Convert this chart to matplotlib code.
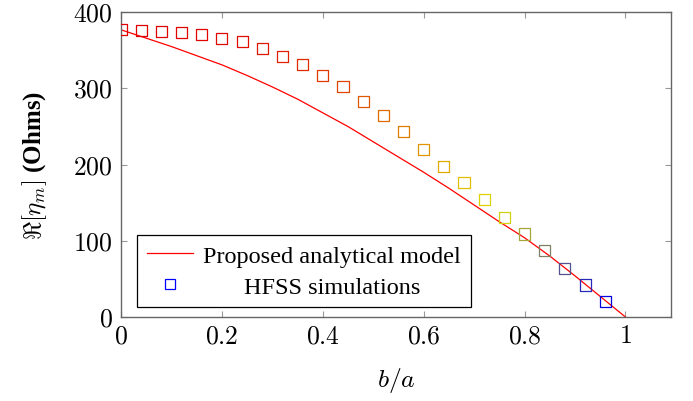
import matplotlib

matplotlib.use("Agg")
import matplotlib.pyplot as plt
import numpy
from matplotlib.colors import LinearSegmentedColormap, Normalize
from matplotlib.lines import Line2D
from matplotlib.ticker import FuncFormatter

# analytical model
model_x = [0.0, 0.05, 0.1, 0.15, 0.2, 0.25, 0.3, 0.35, 0.4, 0.45, 0.5,
           0.55, 0.6, 0.65, 0.7, 0.75, 0.8, 0.85, 0.9, 0.95, 1.0]
model_y = [377, 366, 355, 343, 331, 317, 302, 286, 268, 250, 230,
           210, 190, 169, 147, 125, 104, 80, 54, 27, 0]

# HFSS simulations
hfss_x = [0.0, 0.04, 0.08, 0.12, 0.16, 0.2, 0.24, 0.28, 0.32, 0.36, 0.4, 0.44,
          0.48, 0.52, 0.56, 0.6, 0.64, 0.68, 0.72, 0.76, 0.8, 0.84, 0.88, 0.92, 0.96]
hfss_y = [377, 376, 375, 373, 371, 366, 362, 353, 342, 332, 317, 302,
          283, 264, 243, 220, 198, 176, 154, 131, 109, 87, 64, 42, 20]

x_ticks = [0, 0.2, 0.4, 0.6, 0.8, 1]
y_ticks = [0, 100, 200, 300, 400]

plt.rcParams["mathtext.fontset"] = "cm"
plt.rcParams["font.family"] = "Liberation Serif"

# pgfplots "hot" colormap: blue -> yellow -> orange -> red
hot = LinearSegmentedColormap.from_list(
    "pgfhot", [(0, 0, 1), (1, 1, 0), (1, 0.5, 0), (1, 0, 0)]
)
norm = Normalize(vmin=min(hfss_y), vmax=max(hfss_y))
mark_colors = hot(norm(numpy.array(hfss_y)))
# thin pgf strokes come out a bit muted
mark_colors[:, :3] *= 0.88

fig = plt.figure(figsize=(6.93, 4.02), dpi=100)
ax = fig.add_axes([0.1746, 0.209, 0.7934, 0.758])

ax.plot(model_x, model_y, color="red", lw=0.9, zorder=2)
ax.scatter(hfss_x, hfss_y, marker="s", s=64, facecolors="none",
           edgecolors=mark_colors, linewidths=0.9, zorder=3)

ax.set_xlim(0, 1.09)
ax.set_ylim(0, 400)
ax.set_xticks(x_ticks)
ax.set_yticks(y_ticks)
fmt = FuncFormatter(lambda v, pos: f"${v:g}$")
ax.xaxis.set_major_formatter(fmt)
ax.yaxis.set_major_formatter(fmt)
ax.tick_params(direction="in", length=4.5, width=0.8, color="#999999",
               labelsize=18.5, pad=6, top=True, right=True)
for sp in ax.spines.values():
    sp.set_color("#666666")
    sp.set_linewidth(1.0)

ax.set_xlabel("$b/a$", fontsize=18.5, labelpad=13)
ax.set_ylabel(r"$\Re[\eta_m]$ (Ohms)", fontsize=18, fontweight="bold", labelpad=17)

handles = [
    Line2D([], [], color="red", lw=0.9),
    Line2D([], [], ls="none", marker="s", ms=7, mfc="none", mec="blue", mew=0.9),
]
leg = ax.legend(handles, ["Proposed analytical model", "HFSS simulations"],
                loc="lower left", bbox_to_anchor=(0.03, 0.032), fontsize=17.5,
                frameon=True, fancybox=False, framealpha=1, edgecolor="black",
                borderpad=0.4, handlelength=1.9, handletextpad=0.4,
                labelspacing=0.35, borderaxespad=0)
leg.get_frame().set_linewidth(0.9)
# pgfplots centres the shorter entry in its cell
leg.get_texts()[1].set_x(41)

fig.savefig("out.png", dpi=100)
